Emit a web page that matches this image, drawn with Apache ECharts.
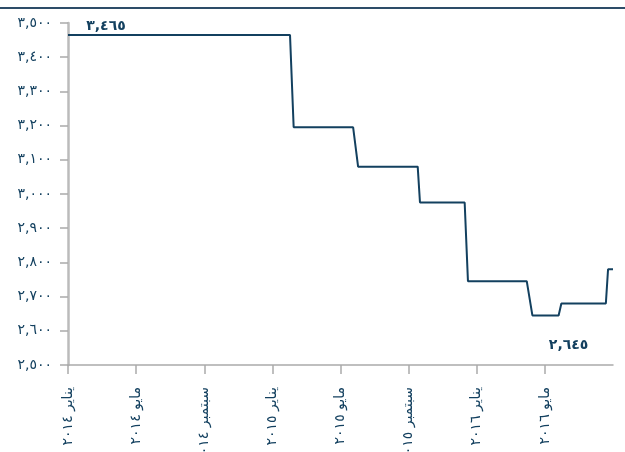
<!DOCTYPE html>
<html style="height: 100%">
<head>
  <meta charset="utf-8">
</head>
<body style="height: 100%; margin: 0">
  <div id="container" style="width: 625px; height: 452px"></div>
  <script src="https://cdn.jsdelivr.net/npm/echarts@6/dist/echarts.min.js"></script>
  <script>
    // step points of the series (date, value)
    var stepDates = ['2014-01-01', '2015-02-02', '2015-02-08', '2015-05-24', '2015-06-02',
      '2015-09-17', '2015-09-21', '2015-12-10', '2015-12-16', '2016-03-30', '2016-04-09',
      '2016-05-26', '2016-05-31', '2016-08-19', '2016-08-23', '2016-09-01'];
    var stepValues = [3465, 3465, 3195, 3195, 3080, 3080, 2975, 2975, 2745, 2745,
      2645, 2645, 2680, 2680, 2780, 2780];
    // x tick labels, one every 4 months from Jan 2014
    var xTickLabels = ['يناير ٢٠١٤', 'مايو ٢٠١٤', 'سبتمبر ٢٠١٤', 'يناير ٢٠١٥',
      'مايو ٢٠١٥', 'سبتمبر ٢٠١٥', 'يناير ٢٠١٦', 'مايو ٢٠١٦'];
    var highLabel = 3465;
    var lowLabel = 2645;

    var navy = '#13405f';
    var digits = '٠١٢٣٤٥٦٧٨٩';
    function arabic(n) {
      return n.toLocaleString('en-US').replace(/[0-9]/g, function (d) { return digits[+d]; });
    }
    // months since Jan 2014, fractional
    function monthIndex(s) {
      var p = s.split('-').map(Number);
      var dim = new Date(Date.UTC(p[0], p[1], 0)).getUTCDate();
      return (p[0] - 2014) * 12 + (p[1] - 1) + (p[2] - 1) / dim;
    }
    var points = stepDates.map(function (d, i) { return [monthIndex(d), stepValues[i]]; });
    var tickVals = xTickLabels.map(function (_, i) { return i * 4; });

    var myChart = echarts.init(document.getElementById('container'));
    var option = {
      animation: false,
      textStyle: { fontFamily: 'DejaVu Sans' },
      grid: { left: 68, right: 12, top: 23, bottom: 87, outerBoundsMode: 'none' },
      graphic: [{
        type: 'line',
        shape: { x1: 0, y1: 8, x2: 625, y2: 8 },
        style: { stroke: '#2d4c68', lineWidth: 2 }
      }],
      xAxis: {
        type: 'value',
        min: 0,
        max: 32,
        splitLine: { show: false },
        axisLine: { lineStyle: { color: '#aaaaaa', width: 1.5 } },
        axisTick: { length: 9, customValues: tickVals, lineStyle: { color: '#aaaaaa', width: 1.5 } },
        axisLabel: {
          customValues: tickVals,
          rotate: 90,
          margin: 22,
          color: navy,
          fontSize: 14,
          formatter: function (v) { return xTickLabels[Math.round(v / 4)] || ''; }
        }
      },
      yAxis: {
        type: 'value',
        min: 2500,
        max: 3500,
        interval: 100,
        splitLine: { show: false },
        axisLine: { show: true, lineStyle: { color: '#bbbbbb', width: 2.5 } },
        axisTick: { show: true, length: 8, lineStyle: { color: '#aaaaaa', width: 1.5 } },
        axisLabel: {
          margin: 16,
          color: navy,
          fontSize: 14,
          formatter: function (v) { return arabic(v); }
        }
      },
      series: [{
        type: 'line',
        data: points,
        symbol: 'none',
        lineStyle: { color: navy, width: 2 },
        markPoint: {
          symbol: 'circle',
          symbolSize: 0,
          label: { show: true, color: navy, fontWeight: 'bold', fontSize: 14 },
          data: [
            { coord: [0, highLabel], label: { formatter: arabic(highLabel), offset: [38, -9] } },
            { coord: [points[11][0], lowLabel], label: { formatter: arabic(lowLabel), offset: [10, 30] } }
          ]
        }
      }]
    };
    myChart.setOption(option);
  </script>
</body>
</html>
